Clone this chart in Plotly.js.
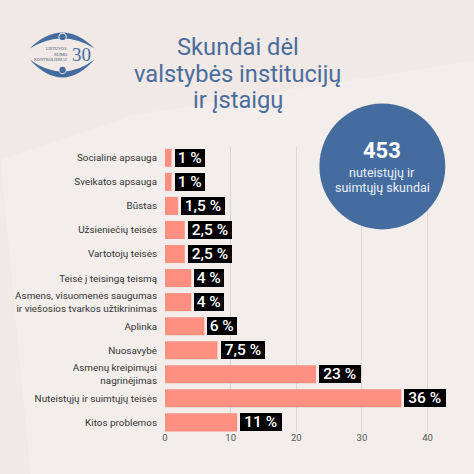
<!DOCTYPE html>
<html><head><meta charset="utf-8">
<script src="https://cdn.plot.ly/plotly-3.0.1.min.js"></script>
<style>html,body{margin:0;padding:0;background:#f0e9e6}</style></head>
<body><div id="chart" style="width:474px;height:474px"></div>
<script>
const categories = ["Socialinė apsauga","Sveikatos apsauga","Būstas","Užsieniečių teisės","Vartotojų teisės","Teisė į teisingą teismą","Asmens, visuomenės saugumas<br>ir viešosios tvarkos užtikrinimas","Aplinka","Nuosavybė","Asmenų kreipimųsi<br>nagrinėjimas","Nuteistųjų ir suimtųjų teisės","Kitos problemos"];
const values = [1,1,2,3,3,4,4,6,8,23,36,11];
const valueLabels = ["1 %","1 %","1,5 %","2,5 %","2,5 %","4 %","4 %","6 %","7,5 %","23 %","36 %","11 %"];
const tickValues = [0,10,20,30,40];
const titleLines = ["Skundai dėl","valstybės institucijų","ir įstaigų"];

const W=474,H=474,L=164.5,R=7.3,T=146.6,B=42.4;
const PW=W-L-R,PH=H-T-B;
const px=x=>(x-L)/PW, py=y=>1-(y-T)/PH;
function path(d){
  return d.replace(/(-?[\d.]+),(-?[\d.]+)/g,(m,a,b)=>px(+a).toFixed(4)+','+py(+b).toFixed(4));
}
const blue='#456c9f', titleBlue='#4a6d9c';
const FONT='Roboto, sans-serif';
const circ=(cx,cy,r,fill)=>({type:'circle',xref:'paper',yref:'paper',x0:px(cx-r),x1:px(cx+r),y0:py(cy+r),y1:py(cy-r),fillcolor:fill,line:{width:0},layer:'above'});

const shapes=[
 {type:'path',xref:'paper',yref:'paper',layer:'below',line:{width:0},fillcolor:'#f3eeeb',
  path:path('M 0,160 L 130,115 L 474,60 L 474,474 L 30,474 Z')},
 circ(382,166,63,blue),
 {type:'path',xref:'paper',yref:'paper',fillcolor:blue,line:{width:0},layer:'above',
  path:path('M 29,48 Q 62,16 94,48 Q 62,28 29,48 Z')},
 {type:'path',xref:'paper',yref:'paper',fillcolor:blue,line:{width:0},layer:'above',
  path:path('M 29,59 Q 62,95 94,59 Q 62,83 29,59 Z')},
 circ(62,36.5,4.2,'#f0e9e6'),circ(62,36.5,3.2,blue),
 circ(62,69.5,4.2,'#f0e9e6'),circ(62,69.5,3.2,blue)
];

const boxW={3:29.5,4:41.5,5:44};
const annotations=values.map((v,i)=>({
  x:v,y:i,xref:'x',yref:'y',xanchor:'left',yanchor:'middle',xshift:3,showarrow:false,
  text:valueLabels[i],bgcolor:'#000',borderpad:0,borderwidth:0,
  font:{family:FONT,size:15.5,color:'#fff',weight:500},width:boxW[valueLabels[i].length],height:18,align:'center'
}));

function txt(x,y,text,size,color,extra){return Object.assign({xref:'paper',yref:'paper',x:px(x),y:py(y),text,showarrow:false,xanchor:'center',yanchor:'middle',align:'center',font:{family:FONT,size,color}},extra||{});}
const serif=(s,c)=>({family:'Liberation Serif',size:s,color:c});
annotations.push(
  txt(237.5,47,titleLines[0],23.7,titleBlue),
  txt(237.5,73.5,titleLines[1],23.7,titleBlue),
  txt(237.5,100,titleLines[2],23.7,titleBlue),
  txt(382,150,'<b>453</b>',22,'#fff'),
  txt(382,172,'nuteistųjų ir',12.5,'#e8eef6'),
  txt(382,187,'suimtųjų skundai',12.5,'#e8eef6'),
  txt(68,48.5,'LIETUVOS',4.2,'#4a5a70',{xanchor:'right',font:serif(4.2,'#4a5a70')}),
  txt(68,53.7,'SEIMO',4.2,'#4a5a70',{xanchor:'right',font:serif(4.2,'#4a5a70')}),
  txt(68,58.7,'KONTROLIERIAI',4.2,'#4a5a70',{xanchor:'right',font:serif(4.2,'#4a5a70')}),
  txt(80.5,54,'30',19,blue,{font:serif(19,blue)})
);

const trace={type:'bar',orientation:'h',x:values,y:categories.map((c,i)=>i),marker:{color:'#ff8f80',line:{width:0}},width:0.75,hoverinfo:'skip',cliponaxis:false};

const layout={
  width:W,height:H,paper_bgcolor:'#f0e9e6',plot_bgcolor:'rgba(0,0,0,0)',showlegend:false,
  margin:{l:L,r:R,t:T,b:B,pad:0},
  font:{family:FONT},
  xaxis:{range:[0,46],tickvals:tickValues,ticktext:tickValues.map(String),showgrid:true,gridcolor:'#dcd5d2',gridwidth:1,zeroline:false,showline:false,ticks:'',tickfont:{family:FONT,size:9.5,color:'#555'},ticklabelstandoff:-2},
  yaxis:{range:[11.4,-0.45],tickmode:'array',tickvals:categories.map((c,i)=>i),ticktext:categories,showgrid:false,zeroline:false,showline:false,ticks:'outside',ticklen:5,tickcolor:'rgba(0,0,0,0)',tickfont:{family:FONT,size:9.9,color:'#333'}},
  shapes,annotations
};
Plotly.newPlot('chart',[trace],layout,{displayModeBar:false,staticPlot:true});
</script></body></html>
